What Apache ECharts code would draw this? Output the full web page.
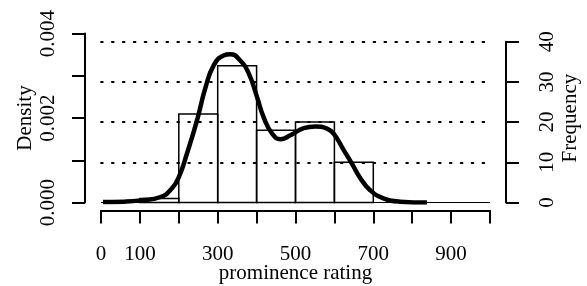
<!DOCTYPE html>
<html>
<head>
<meta charset="utf-8">
<script src="https://cdn.jsdelivr.net/npm/echarts@6/dist/echarts.min.js"></script>
<style>
  html, body { margin: 0; padding: 0; background: #fff; }
  #chart { width: 587px; height: 286px; }
</style>
</head>
<body>
<div id="chart"></div>
<script>
// histogram bins (left edges, width 100) and counts
const binStarts = [100, 200, 300, 400, 500, 600]
const binCounts = [1, 22, 34, 18, 20, 10]
const binWidth = 100

// density curve: x positions and density values
const densX = [5, 60, 101, 153, 182, 200, 221, 247, 268, 290, 315, 332, 358, 380, 401, 418, 440, 461, 487, 521, 551, 581, 598, 624, 645, 667, 692, 726, 769, 838]
const densY = [0.00001, 0.00002, 0.00005, 0.00013, 0.00033, 0.0006, 0.00116, 0.00195, 0.0027, 0.00325, 0.00348, 0.00351, 0.00336, 0.00305, 0.0025, 0.00202, 0.00163, 0.0015, 0.00159, 0.00176, 0.0018, 0.00175, 0.00163, 0.00124, 0.00092, 0.00057, 0.00029, 0.0001, 0.00002, 0]

// tick labels that are printed
const xTickLabels = [0, 100, 300, 500, 700, 900]
const densityTickLabels = ['0.000', '0.002', '0.004']
const freqTickLabels = [0, 10, 20, 30, 40]

const font = 'Liberation Serif'
const fontSize = 21

const chart = echarts.init(document.getElementById('chart'))

const axisLine = { show: true, onZero: false, lineStyle: { color: '#000', width: 2 } }
const axisTick = { show: true, length: 13, lineStyle: { color: '#000', width: 2 } }

const option = {
  animation: false,
  grid: [
    { left: 101, right: 97, top: 33.5, bottom: 83.5, outerBoundsMode: 'none', containLabel: false },
    { left: 101, right: 97, top: 41.7, bottom: 83.5, outerBoundsMode: 'none', containLabel: false }
  ],
  xAxis: [
    {
      type: 'value', gridIndex: 0, min: 0, max: 1000, interval: 100,
      offset: 8,
      name: 'prominence rating', nameLocation: 'middle', nameGap: 52.5, nameMoveOverlap: false,
      nameTextStyle: { fontFamily: font, fontSize: fontSize, color: '#000' },
      axisLine: axisLine, axisTick: axisTick,
      axisLabel: {
        margin: 33, fontFamily: font, fontSize: fontSize, color: '#000',
        showMinLabel: true, showMaxLabel: true,
        formatter: function (v) {
          return xTickLabels.indexOf(v) >= 0 ? String(v) : ''
        }
      },
      splitLine: { show: false }
    },
    {
      type: 'value', gridIndex: 1, min: 0, max: 1000, show: false
    }
  ],
  yAxis: [
    {
      type: 'value', gridIndex: 0, position: 'left', min: 0, max: 0.004, interval: 0.001,
      offset: 16,
      name: 'Density', nameLocation: 'middle', nameGap: 49, nameRotate: 90, nameMoveOverlap: false,
      nameTextStyle: { fontFamily: font, fontSize: fontSize, color: '#000' },
      axisLine: axisLine, axisTick: axisTick,
      axisLabel: {
        rotate: 90, margin: 26, fontFamily: font, fontSize: fontSize, color: '#000',
        formatter: function (v) {
          const s = v.toFixed(3)
          return densityTickLabels.indexOf(s) >= 0 ? s : ''
        }
      },
      splitLine: { show: false }
    },
    {
      type: 'value', gridIndex: 1, position: 'right', min: 0, max: 40, interval: 10,
      offset: 16,
      name: 'Frequency', nameLocation: 'middle', nameGap: 54, nameRotate: 90, nameMoveOverlap: false,
      nameTextStyle: { fontFamily: font, fontSize: fontSize, color: '#000', padding: [0, 0, 0, 8] },
      axisLine: axisLine, axisTick: axisTick,
      axisLabel: {
        rotate: 90, margin: 31, fontFamily: font, fontSize: fontSize, color: '#000',
        formatter: function (v) {
          return freqTickLabels.indexOf(v) >= 0 ? String(v) : ''
        }
      },
      splitLine: {
        show: true, showMinLine: false,
        lineStyle: { color: '#000', width: 1.8, type: [1.8, 9.1], cap: 'round' }
      }
    }
  ],
  series: [
    {
      type: 'custom',
      xAxisIndex: 1, yAxisIndex: 1,
      data: binStarts.map((s, i) => [s, binCounts[i]]),
      renderItem: function (params, api) {
        const x0 = api.value(0)
        const p0 = api.coord([x0, 0])
        const p1 = api.coord([x0 + binWidth, api.value(1)])
        return {
          type: 'rect',
          shape: { x: p0[0], y: p1[1], width: p1[0] - p0[0], height: p0[1] - p1[1] },
          style: { fill: 'none', stroke: '#000', lineWidth: 1.5 }
        }
      },
      z: 3
    },
    {
      type: 'line',
      xAxisIndex: 0, yAxisIndex: 0,
      data: densX.map((x, i) => [x, densY[i]]),
      smooth: 0.5,
      symbol: 'none',
      lineStyle: { color: '#000', width: 4.5 },
      markLine: {
        silent: true, symbol: 'none', label: { show: false },
        lineStyle: { color: '#000', width: 1, type: 'solid' },
        data: [{ yAxis: 0 }]
      },
      z: 4
    }
  ]
}

chart.setOption(option)
</script>
</body>
</html>
